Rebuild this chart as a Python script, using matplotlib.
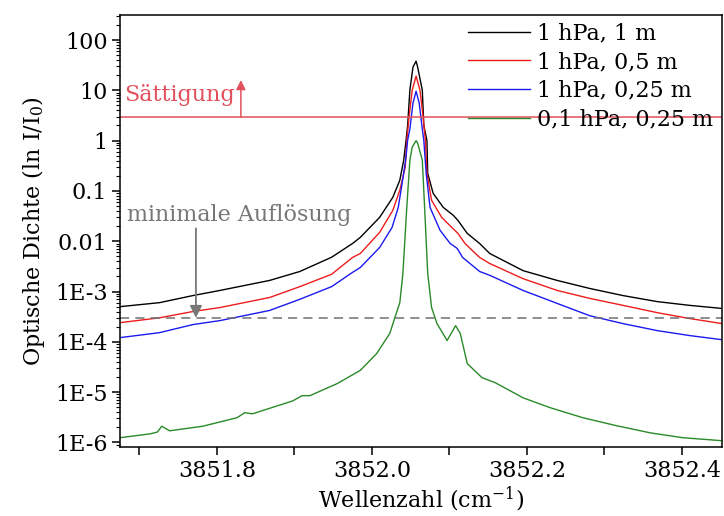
import matplotlib
matplotlib.use('Agg')
import matplotlib.pyplot as plt
from matplotlib.ticker import MultipleLocator, LogLocator, NullFormatter, FormatStrFormatter

plt.rcParams['font.family'] = ['DejaVu Serif']
plt.rcParams['mathtext.fontset'] = 'dejavuserif'
plt.rcParams['font.size'] = 16

# black: 1 hPa, 1 m
x_black = [3851.675, 3851.726, 3851.769, 3851.804, 3851.868, 3851.907, 3851.948, 3851.975,
           3851.985, 3852.010, 3852.027, 3852.036, 3852.041, 3852.044, 3852.046, 3852.049,
           3852.053, 3852.057, 3852.059, 3852.065, 3852.067, 3852.071, 3852.072, 3852.079,
           3852.092, 3852.105, 3852.111, 3852.123, 3852.139, 3852.152, 3852.195, 3852.239,
           3852.281, 3852.324, 3852.368, 3852.410, 3852.452]
y_black = [5.0e-4, 6.0e-4, 8.3e-4, 1.05e-3, 1.66e-3, 2.5e-3, 4.8e-3, 9.0e-3,
           0.0119, 0.0298, 0.0746, 0.163, 0.407, 1.0, 1.9, 10.1,
           29, 38, 29, 10.1, 2.0, 1.0, 0.224, 0.0895,
           0.0471, 0.0327, 0.0259, 0.0143, 0.0090, 5.7e-3, 2.6e-3, 1.66e-3,
           1.15e-3, 8.3e-4, 6.3e-4, 5.3e-4, 4.6e-4]

# red: 1 hPa, 0.5 m
x_red = [3851.675, 3851.726, 3851.769, 3851.804, 3851.868, 3851.907, 3851.948, 3851.975,
         3851.985, 3852.010, 3852.027, 3852.036, 3852.043, 3852.045, 3852.048, 3852.052,
         3852.057, 3852.062, 3852.066, 3852.069, 3852.071, 3852.077, 3852.090, 3852.103,
         3852.111, 3852.120, 3852.139, 3852.152, 3852.195, 3852.239, 3852.281, 3852.324,
         3852.368, 3852.410, 3852.452]
y_red = [2.4e-4, 3.0e-4, 4.0e-4, 4.8e-4, 7.6e-4, 1.25e-3, 2.2e-3, 4.75e-3,
         5.7e-3, 0.0150, 0.0411, 0.103, 0.295, 1.0, 3.0, 10.1,
         19.2, 10.1, 3.0, 1.0, 0.224, 0.065, 0.0298, 0.0188,
         0.0143, 0.00904, 4.75e-3, 3.6e-3, 1.8e-3, 1.05e-3, 7.3e-4, 5.3e-4,
         3.8e-4, 2.9e-4, 2.3e-4]

# blue: 1 hPa, 0.25 m
x_blue = [3851.675, 3851.726, 3851.769, 3851.804, 3851.868, 3851.907, 3851.948, 3851.975,
          3851.985, 3852.010, 3852.026, 3852.034, 3852.039, 3852.044, 3852.046, 3852.049,
          3852.053, 3852.057, 3852.061, 3852.065, 3852.067, 3852.070, 3852.075, 3852.088,
          3852.101, 3852.110, 3852.117, 3852.139, 3852.152, 3852.195, 3852.239, 3852.281,
          3852.324, 3852.368, 3852.410, 3852.452]
y_blue = [1.21e-4, 1.52e-4, 2.2e-4, 2.64e-4, 4.2e-4, 7.0e-4, 1.25e-3, 2.4e-3,
          3.0e-3, 7.5e-3, 0.0188, 0.0471, 0.142, 0.467, 1.0, 1.7,
          5.6, 9.6, 5.6, 1.7, 1.0, 0.224, 0.047, 0.0164,
          9.0e-3, 7.2e-3, 4.75e-3, 2.5e-3, 2.1e-3, 1.05e-3, 5.8e-4, 3.3e-4,
          2.3e-4, 1.67e-4, 1.33e-4, 1.1e-4]

# green: 0.1 hPa, 0.25 m
x_green = [3851.675, 3851.714, 3851.723, 3851.729, 3851.739, 3851.782, 3851.826, 3851.836,
           3851.846, 3851.898, 3851.910, 3851.920, 3851.955, 3851.985, 3852.006, 3852.023,
           3852.031, 3852.036, 3852.040, 3852.045, 3852.049, 3852.052, 3852.057, 3852.059,
           3852.065, 3852.068, 3852.072, 3852.077, 3852.084, 3852.097, 3852.108, 3852.114,
           3852.123, 3852.142, 3852.159, 3852.178, 3852.195, 3852.230, 3852.272, 3852.316,
           3852.359, 3852.401, 3852.452]
y_green = [1.24e-6, 1.48e-6, 1.6e-6, 2.1e-6, 1.7e-6, 2.1e-6, 3.1e-6, 3.9e-6,
           3.7e-6, 6.7e-6, 8.5e-6, 8.5e-6, 1.47e-5, 2.7e-5, 5.8e-5, 1.46e-4,
           3.5e-4, 6.0e-4, 2.3e-3, 0.047, 0.41, 0.74, 1.0, 0.89,
           0.41, 0.047, 2.3e-3, 4.8e-4, 2.3e-4, 1.06e-4, 2.1e-4, 1.46e-4,
           3.7e-5, 1.94e-5, 1.54e-5, 1.07e-5, 7.7e-6, 4.9e-6, 3.1e-6, 2.14e-6,
           1.55e-6, 1.24e-6, 1.08e-6]

labels = ['1 hPa, 1 m', '1 hPa, 0,5 m', '1 hPa, 0,25 m', '0,1 hPa, 0,25 m']
saettigung = 2.9
aufloesung = 3.0e-4

y_ticks = [1e2, 1e1, 1, 0.1, 0.01, 1e-3, 1e-4, 1e-5, 1e-6]
y_ticklabels = ['100', '10', '1', '0.1', '0.01', '1E-3', '1E-4', '1E-5', '1E-6']

fig = plt.figure(figsize=(7.24, 5.16), dpi=100)
ax = fig.add_axes([0.1657, 0.1337, 0.8315, 0.8372])

ax.plot(x_black, y_black, color='black', lw=1.0, label=labels[0])
ax.plot(x_red, y_red, color='#ee1c1c', lw=1.0, label=labels[1])
ax.plot(x_blue, y_blue, color='#1a1aee', lw=1.0, label=labels[2])
ax.plot(x_green, y_green, color='#2a8a2a', lw=1.0, label=labels[3])

ax.axhline(saettigung, color='#e2505c', lw=1.1)
ax.axhline(aufloesung, color='#707070', lw=1.1, dashes=(6, 4))

ax.text(3851.681, 8.0, 'Sättigung', color='#e2505c', ha='left', va='center', fontsize=16)
ax.annotate('', xy=(3851.831, 16), xytext=(3851.831, saettigung),
            arrowprops=dict(arrowstyle='-|>', color='#e2505c', lw=1.1,
                            mutation_scale=14, shrinkA=0, shrinkB=0))

ax.text(3851.684, 0.033, 'minimale Auflösung', color='#777777', ha='left', va='center', fontsize=16)
ax.annotate('', xy=(3851.773, aufloesung), xytext=(3851.773, 0.018),
            arrowprops=dict(arrowstyle='-|>', color='#777777', lw=1.3,
                            mutation_scale=18, shrinkA=0, shrinkB=0))

ax.set_yscale('log')
ax.set_xlim(3851.675, 3852.4516)
ax.set_ylim(8.1e-7, 314)
ax.set_yticks(y_ticks)
ax.set_yticklabels(y_ticklabels)
ax.yaxis.set_minor_locator(LogLocator(base=10, subs=range(2, 10), numticks=20))
ax.yaxis.set_minor_formatter(NullFormatter())
ax.xaxis.set_major_locator(MultipleLocator(0.2))
ax.xaxis.set_minor_locator(MultipleLocator(0.1))
ax.xaxis.set_major_formatter(FormatStrFormatter('%.1f'))

ax.tick_params(which='major', direction='out', length=6, width=1.1, labelsize=16, pad=3)
ax.tick_params(which='minor', direction='out', length=3, width=0.8)
ax.tick_params(axis='x', which='minor', length=6, width=1.1)
for s in ax.spines.values():
    s.set_linewidth(1.1)

ax.set_xlabel('Wellenzahl (cm$^{-1}$)', fontsize=16, labelpad=2)
ax.set_ylabel('Optische Dichte (ln I/I$_0$)', fontsize=16, labelpad=6)

ax.legend(loc='upper right', bbox_to_anchor=(1.008, 1.014), frameon=False, fontsize=16,
          handlelength=2.75, handletextpad=0.35, labelspacing=0.3, borderaxespad=0.2)

fig.savefig('out.png', dpi=100)
